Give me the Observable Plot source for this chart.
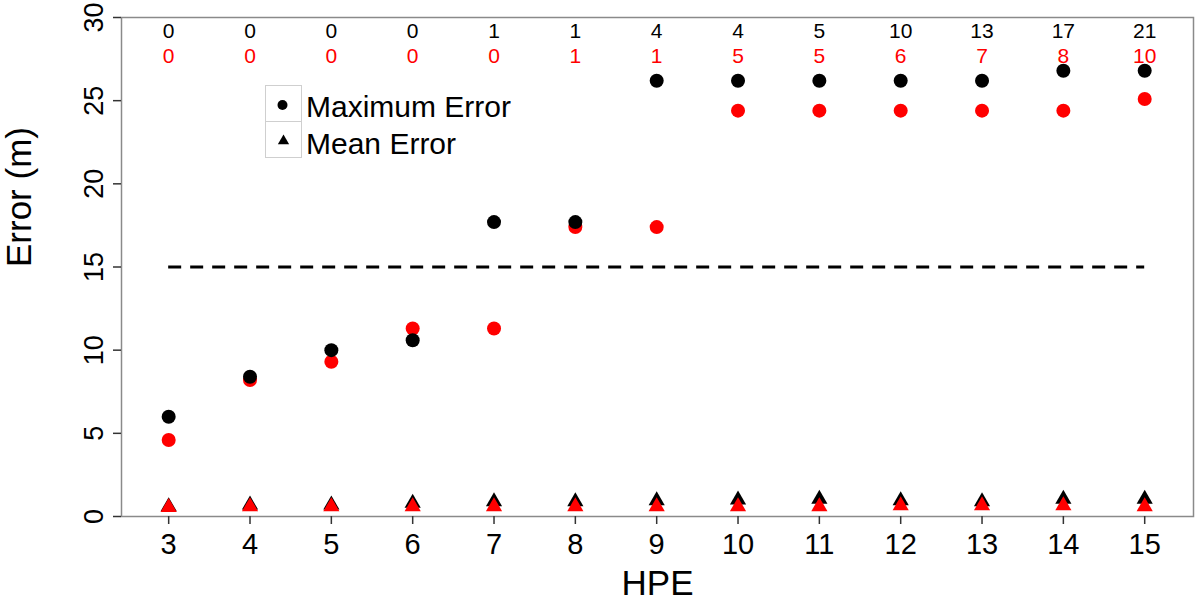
<!DOCTYPE html>
<html>
<head>
<meta charset="utf-8">
<script src="https://cdn.jsdelivr.net/npm/d3@7"></script>
<script src="https://cdn.jsdelivr.net/npm/@observablehq/plot@0.6"></script>
<style>
  html, body { margin: 0; padding: 0; background: #fff; }
  #wrap { position: relative; width: 1200px; height: 601px; font-family: "Liberation Sans", Arial, sans-serif; }
  #legend { position: absolute; left: 265px; top: 85px; }
</style>
</head>
<body>
<div id="wrap"></div>
<script>
// ---- data ----
const hpe = [3, 4, 5, 6, 7, 8, 9, 10, 11, 12, 13, 14, 15];
const maxErrBlack = [6.0, 8.4, 10.0, 10.6, 17.7, 17.7, 26.2, 26.2, 26.2, 26.2, 26.2, 26.8, 26.8];
const maxErrRed   = [4.6, 8.2, 9.3, 11.3, 11.3, 17.4, 17.4, 24.4, 24.4, 24.4, 24.4, 24.4, 25.1];
const meanErrBlack = [0.6, 0.7, 0.7, 0.8, 0.9, 0.9, 0.95, 1.0, 1.05, 0.95, 0.9, 1.05, 1.05];
const meanErrRed   = [0.55, 0.6, 0.6, 0.6, 0.6, 0.6, 0.6, 0.6, 0.6, 0.65, 0.65, 0.65, 0.6];
const countBlack = [0, 0, 0, 0, 1, 1, 4, 4, 5, 10, 13, 17, 21];
const countRed   = [0, 0, 0, 0, 0, 1, 1, 5, 5, 6, 7, 8, 10];
const threshold = 15;
const yTicks = [0, 5, 10, 15, 20, 25, 30];
const legendLabels = ["Maximum Error", "Mean Error"];

const rows = hpe.map((h, i) => ({
  hpe: h,
  maxB: maxErrBlack[i], maxR: maxErrRed[i],
  meanB: meanErrBlack[i], meanR: meanErrRed[i],
  cB: countBlack[i], cR: countRed[i]
}));

const font = "Liberation Sans, Arial, sans-serif";

const chart = Plot.plot({
  width: 1200,
  height: 601,
  marginLeft: 121,
  marginRight: 7,
  marginTop: 17,
  marginBottom: 85,
  style: { fontFamily: font, background: "#fff" },
  x: { domain: [2.42, 15.6] },
  y: { domain: [0, 30] },
  marks: [
    Plot.frame({ stroke: "#8a8a8a", strokeWidth: 1.5 }),
    Plot.axisX({ ticks: hpe, tickFormat: d => d, fontSize: 29, tickSize: 8, tickPadding: 9, stroke: "#333", strokeWidth: 1.5, label: null, color: "#000" }),
    Plot.axisY({ ticks: yTicks, tickFormat: d => d, fontSize: 27, tickSize: 8, tickPadding: 11, tickRotate: -90, stroke: "#333", strokeWidth: 1.5, label: null, color: "#000" }),
    Plot.text(["HPE"], { frameAnchor: "bottom", lineAnchor: "bottom", dy: 78, fontSize: 35, fill: "#000" }),
    Plot.text(["Error (m)"], { frameAnchor: "left", dx: -102, rotate: -90, fontSize: 35, fill: "#000" }),
    Plot.ruleY([threshold], { x1: hpe[0], x2: hpe[hpe.length - 1], stroke: "#000", strokeWidth: 3, strokeDasharray: "13,9" }),
    Plot.dot(rows, { x: "hpe", y: "maxR", r: 7, fill: "#ff0000", symbol: "circle" }),
    Plot.dot(rows, { x: "hpe", y: "maxB", r: 7, fill: "#000", symbol: "circle" }),
    Plot.dot(rows, { x: "hpe", y: "meanB", r: 6, fill: "#000", symbol: "triangle" }),
    Plot.dot(rows, { x: "hpe", y: "meanR", r: 6, fill: "#ff0000", symbol: "triangle" }),
    Plot.text(rows, { x: "hpe", text: "cB", frameAnchor: "top", lineAnchor: "top", dy: 6, fontSize: 21, fill: "#000" }),
    Plot.text(rows, { x: "hpe", text: "cR", frameAnchor: "top", lineAnchor: "top", dy: 31, fontSize: 21, fill: "#ff0000" })
  ]
});

const wrap = document.getElementById("wrap");
wrap.appendChild(chart);

// legend (real text)
const lg = d3.select(wrap).append("svg").attr("id", "legend")
  .attr("width", 280).attr("height", 80);
lg.append("rect").attr("x", 0.5).attr("y", 0.5).attr("width", 36).attr("height", 36)
  .attr("fill", "#fff").attr("stroke", "#cfcfcf");
lg.append("rect").attr("x", 0.5).attr("y", 36.5).attr("width", 36).attr("height", 36)
  .attr("fill", "#fff").attr("stroke", "#cfcfcf");
lg.append("path").attr("d", d3.symbol(d3.symbolCircle, Math.PI * 25)()).attr("transform", "translate(17.5,20)").attr("fill", "#000");
lg.append("path").attr("d", d3.symbol(d3.symbolTriangle, 55)()).attr("transform", "translate(18.5,56)").attr("fill", "#000");
legendLabels.forEach((t, i) => {
  lg.append("text").attr("x", 41).attr("y", 21 + i * 37).attr("dy", "0.36em")
    .attr("font-family", font).attr("font-size", 30).attr("fill", "#000").text(t);
});
</script>
</body>
</html>
